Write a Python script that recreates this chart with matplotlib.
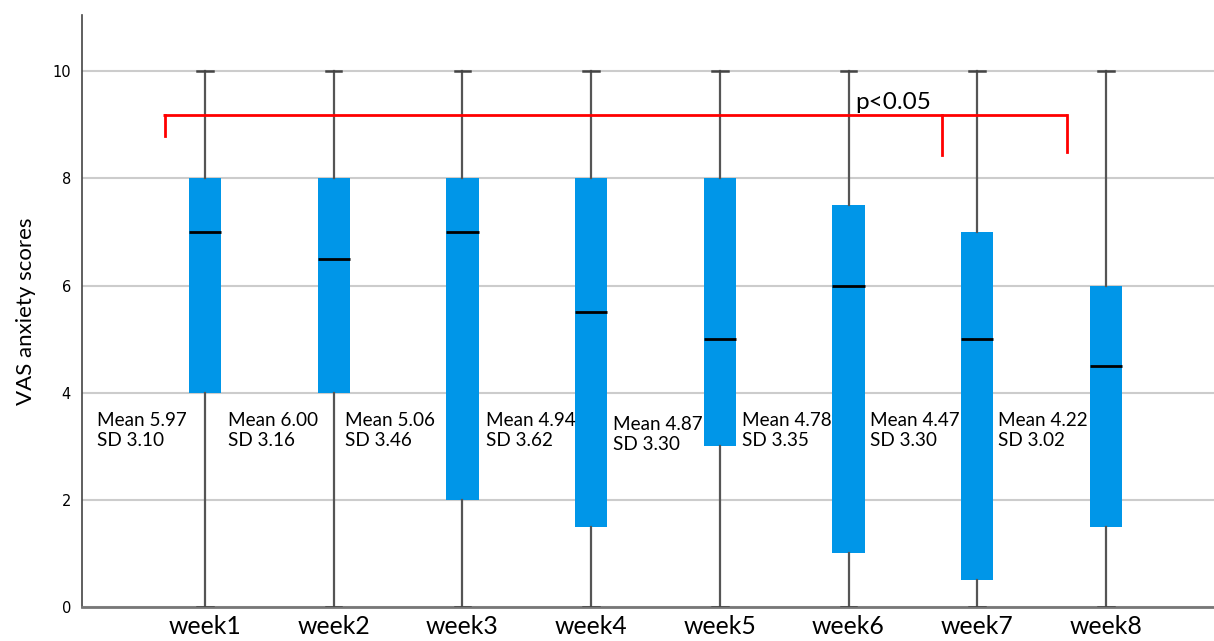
"""
plot__vas_anxiety.py
weekly VAS anxiety scores as box plots, with mean / SD notes
"""

import matplotlib
matplotlib.use('Agg')
import matplotlib.pyplot as plt

## data
WEEKS     = ['week1', 'week2', 'week3', 'week4', 'week5', 'week6', 'week7', 'week8']
WHISK_LO  = [0, 0, 0, 0, 0, 0, 0, 0]
Q1        = [4.0, 4.0, 2.0, 1.5, 3.0, 1.0, 0.5, 1.5]
MEDIAN    = [7.0, 6.5, 7.0, 5.5, 5.0, 6.0, 5.0, 4.5]
Q3        = [8.0, 8.0, 8.0, 8.0, 8.0, 7.5, 7.0, 6.0]
WHISK_HI  = [10, 10, 10, 10, 10, 10, 10, 10]
MEANS     = [5.97, 6.00, 5.06, 4.94, 4.87, 4.78, 4.47, 4.22]
SDS       = [3.10, 3.16, 3.46, 3.62, 3.30, 3.35, 3.30, 3.02]

BOX_COLOR = '#0096E8'
TXT_FONT  = ['Lato', 'DejaVu Sans']

## note placement relative to each box (x offset, y centre)
NOTE_DX   = [-0.84, -0.82, -0.91, -0.82, -0.83, -0.83, -0.83, -0.84]
NOTE_Y    = [3.29, 3.29, 3.29, 3.29, 3.22, 3.29, 3.29, 3.29]


def plot_vas():
    '''
    box plot of VAS anxiety scores per week
    '''
    fig = plt.figure(figsize=(12.14, 6.41), dpi=100)
    ax = fig.add_axes([82/1214, 1 - 607/641, 1 - 82/1214, (607 - 15)/641])

    pos = list(range(1, len(WEEKS) + 1))
    stats = []
    for i, name in enumerate(WEEKS):
        stats.append({'label': name, 'whislo': WHISK_LO[i], 'q1': Q1[i],
                      'med': MEDIAN[i], 'q3': Q3[i], 'whishi': WHISK_HI[i],
                      'fliers': []})

    ax.bxp(stats, positions=pos, widths=0.25, patch_artist=True,
           showfliers=False,
           boxprops=dict(facecolor=BOX_COLOR, edgecolor=BOX_COLOR, linewidth=0),
           medianprops=dict(color='black', linewidth=2.0),
           whiskerprops=dict(color='#555555', linewidth=1.6),
           capprops=dict(color='#444444', linewidth=1.8),
           capwidths=0.12, zorder=3)

    ## mean / sd notes, to the lower left of each box
    for i, p in enumerate(pos):
        ax.text(p + NOTE_DX[i], NOTE_Y[i],
                'Mean {:.2f}\nSD {:.2f}'.format(MEANS[i], SDS[i]),
                ha='left', va='center', fontsize=13.6, family=TXT_FONT,
                linespacing=1.2, zorder=4)

    ## significance bracket
    y_bar = 9.18
    ax.plot([0.672, 7.698], [y_bar, y_bar], color='red', linewidth=2, zorder=5,
            solid_capstyle='butt')
    ax.plot([0.688, 0.688], [y_bar, 8.80], color='red', linewidth=2, zorder=5)
    ax.plot([6.727, 6.727], [y_bar, 8.43], color='red', linewidth=2, zorder=5)
    ax.plot([7.698, 7.698], [y_bar, 8.49], color='red', linewidth=2, zorder=5)
    ax.text(6.05, 9.22, 'p<0.05', ha='left', va='bottom', fontsize=17.5,
            family=TXT_FONT, zorder=5)

    ax.set_xlim(0.044, 8.84)
    ax.set_ylim(0, 11.05)
    ax.set_yticks([0, 2, 4, 6, 8, 10])
    ax.set_xticks(pos)
    ax.set_xticklabels(WEEKS, fontsize=17.8, family=TXT_FONT)
    ax.tick_params(axis='y', length=0, labelsize=10.5, pad=8)
    ax.tick_params(axis='x', length=0, pad=6)
    ax.set_ylabel('VAS anxiety scores', fontsize=16, family=TXT_FONT, labelpad=12)

    ax.grid(True, axis='y', color='#CCCCCC', linewidth=1.5, zorder=0)
    ax.set_axisbelow(True)
    for side in ['top', 'right']:
        ax.spines[side].set_visible(False)
    ax.spines['left'].set_color('#444444')
    ax.spines['left'].set_linewidth(1.2)
    ax.spines['bottom'].set_color('#777777')
    ax.spines['bottom'].set_linewidth(2)

    fig.savefig('out.png', dpi=100)


if __name__ == '__main__':
    plot_vas()
